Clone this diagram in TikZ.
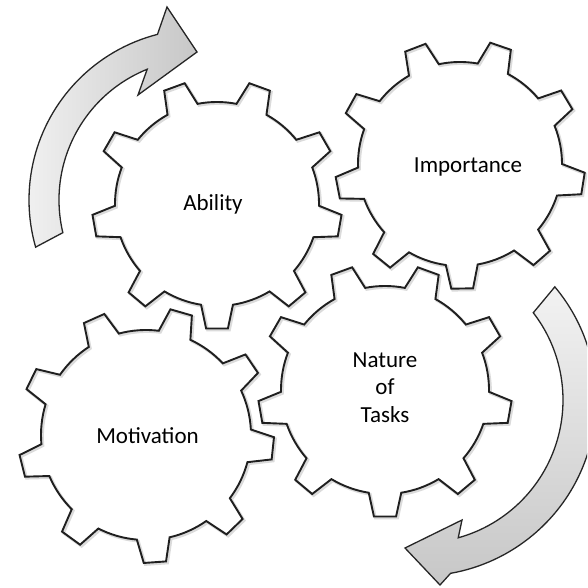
\documentclass[tikz,border=0pt]{standalone}
\usepackage{fontspec}
\setmainfont{Carlito}
\usetikzlibrary{calc}
\tikzset{
  gearline/.style={draw=black!88, line width=1.9pt, line join=miter},
  gearshadow/.style={draw=black!35, line width=2.8pt, opacity=0.4},
  arrowbody/.style={draw=black!85, line width=1.3pt, line join=miter},
  lbl/.style={font=\fontsize{23}{27.5}\selectfont, text=black, inner sep=0pt, align=center},
}
% #1,#2 centre, #3 phase, #4 tip radius, #5 root radius, #6 style
\newcommand\mygear[6]{%
  \begin{scope}[shift={(#1,#2)}]
    \draw[#6] ({#3-9}:#5) \foreach \k in {0,...,8}{
      -- ({#3+40*\k-5}:#4) -- ({#3+40*\k+5}:#4) -- ({#3+40*\k+9}:#5)
      arc[start angle={#3+40*\k+9}, end angle={#3+40*\k+31}, radius=#5pt]
    } -- cycle;
  \end{scope}}
\begin{document}
\begin{tikzpicture}[x=1pt,y=1pt]
  \useasboundingbox (0,0) rectangle (587,588);
  \clip (0,0) rectangle (587,588);
  \fill[white] (0,0) rectangle (587,588);

  % curved arrows
  \coordinate (lc) at (200,388);
  \draw[arrowbody, left color=black!5, right color=black!22]
    ($(lc)+(196:171)$) arc[start angle=196, end angle=104.4, radius=171pt]
    -- (167,581) -- (197,536) -- (138,493)
    -- ($(lc)+(112:141)$) arc[start angle=112, end angle=193.4, radius=141pt] -- cycle;

  \coordinate (rc) at (420,188);
  \draw[arrowbody, top color=black!5, bottom color=black!22]
    ($(rc)+(40:176)$) arc[start angle=40, end angle=-80, radius=176pt]
    -- (440,3) -- (405,40) -- (462,68)
    -- ($(rc)+(-74.5:143)$) arc[start angle=-74.5, end angle=37.6, radius=143pt] -- cycle;

  % gear shadows
  \begin{scope}[shift={(1.5,-1.5)}]
    \mygear{217}{384}{70}{125}{102}{gearshadow}
    \mygear{460}{424}{71}{125}{102}{gearshadow}
    \mygear{146}{153}{74}{128}{105}{gearshadow}
    \mygear{385}{198}{70}{127}{104}{gearshadow}
  \end{scope}
  % gears
  \mygear{217}{384}{70}{125}{102}{gearline}
  \mygear{460}{424}{71}{125}{102}{gearline}
  \mygear{146}{153}{74}{128}{105}{gearline}
  \mygear{385}{198}{70}{127}{104}{gearline}

  % labels
  \node[lbl, anchor=base] (ability) at (213,377) {Ability};
  \node[lbl, anchor=base] (importance) at (468,415) {Importance};
  \node[lbl, anchor=base] (motivation) at (147.5,144) {Motivation};
  \node[lbl] (nature) at (385,200.5) {Nature\\of\\Tasks};
\end{tikzpicture}
\end{document}
